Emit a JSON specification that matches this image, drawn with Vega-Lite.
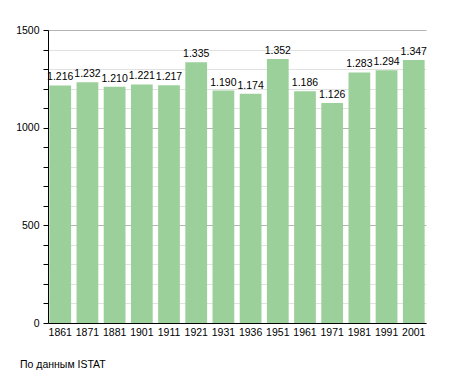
{
  "$schema": "https://vega.github.io/schema/vega-lite/v6.json",
  "width": 378,
  "height": 293,
  "autosize": "none",
  "padding": {"left": 48, "top": 30, "right": 29, "bottom": 50},
  "background": "white",
  "config": {
    "view": {"stroke": null},
    "font": "Liberation Sans",
    "locale": {"number": {"decimal": ",", "thousands": ".", "grouping": [3], "currency": ["", ""]}}
  },
  "title": {
    "text": "По данным ISTAT",
    "orient": "bottom",
    "anchor": "start",
    "frame": "group",
    "dx": -28,
    "offset": 22,
    "fontSize": 10.5,
    "fontWeight": "normal",
    "color": "black",
    "font": "Liberation Sans"
  },
  "data": {
    "values": [
      {"year": "1861", "pop": 1216},
      {"year": "1871", "pop": 1232},
      {"year": "1881", "pop": 1210},
      {"year": "1901", "pop": 1221},
      {"year": "1911", "pop": 1217},
      {"year": "1921", "pop": 1335},
      {"year": "1931", "pop": 1190},
      {"year": "1936", "pop": 1174},
      {"year": "1951", "pop": 1352},
      {"year": "1961", "pop": 1186},
      {"year": "1971", "pop": 1126},
      {"year": "1981", "pop": 1283},
      {"year": "1991", "pop": 1294},
      {"year": "2001", "pop": 1347}
    ]
  },
  "encoding": {
    "x": {
      "field": "year",
      "type": "ordinal",
      "sort": null,
      "scale": {"paddingInner": 0.2, "paddingOuter": 0.05},
      "axis": {
        "title": null,
        "labelAngle": 0,
        "ticks": false,
        "domainColor": "black",
        "domainWidth": 1,
        "labelFontSize": 10.5,
        "labelColor": "black",
        "labelPadding": 4,
        "grid": false
      }
    },
    "y": {
      "field": "pop",
      "type": "quantitative",
      "scale": {"domain": [0, 1500], "nice": false},
      "axis": {
        "title": null,
        "values": [0, 100, 200, 300, 400, 500, 600, 700, 800, 900, 1000, 1100, 1200, 1300, 1400, 1500],
        "labelExpr": "datum.value % 500 === 0 ? datum.value : ''",
        "format": "d",
        "grid": true,
        "gridColor": {"condition": {"test": "datum.value % 500 === 0", "value": "#b4b4b4"}, "value": "#e2e2e2"},
        "gridWidth": 1,
        "domainColor": "black",
        "tickColor": "black",
        "tickSize": 5,
        "labelFontSize": 10.5,
        "labelColor": "black",
        "labelPadding": 4
      }
    }
  },
  "layer": [
    {"mark": {"type": "bar", "color": "#9bd09b"}},
    {
      "mark": {"type": "text", "baseline": "bottom", "dy": -3, "fontSize": 10.5, "color": "black"},
      "encoding": {"text": {"field": "pop", "type": "quantitative", "format": ",d"}}
    }
  ]
}
